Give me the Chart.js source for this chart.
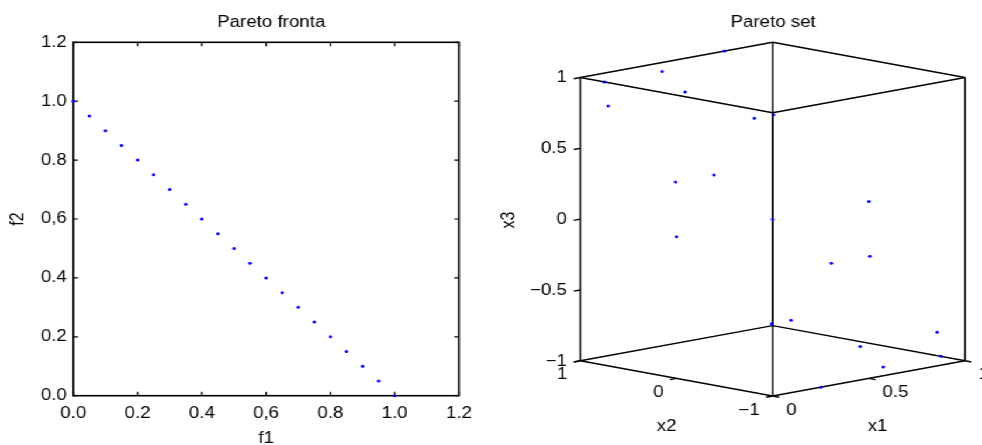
<!DOCTYPE html>
<html>
<head>
<meta charset="utf-8">
<script src="https://cdn.jsdelivr.net/npm/chart.js@4.4.1/dist/chart.umd.min.js"></script>
<style>
  html, body { margin: 0; padding: 0; background: #fff; overflow: hidden; }
  /* figure is laid out at 840px and widened to 982px */
  #figure { position: absolute; left: 0; top: 0; width: 840px; height: 445px; transform: scaleX(1.16905); transform-origin: 0 0; }
  .panel { position: absolute; top: 0; width: 420px; height: 445px; }
  #frontPanel { left: 0; }
  #setPanel { left: 420px; }
</style>
</head>
<body>
<div id="figure">
  <div class="panel" id="frontPanel"><canvas id="frontChart"></canvas></div>
  <div class="panel" id="setPanel"><canvas id="setChart"></canvas></div>
</div>
<script>
const FONT = "'Liberation Sans', Arial, Helvetica, sans-serif";
Chart.defaults.font.family = FONT;
Chart.defaults.font.size = 16;
Chart.defaults.color = "#000";

// Pareto front (objective space)
const f1 = [0, 0.05, 0.1, 0.15, 0.2, 0.25, 0.3, 0.35, 0.4, 0.45, 0.5, 0.55, 0.6, 0.65, 0.7, 0.75, 0.8, 0.85, 0.9, 0.95, 1.0];
const f2 = [1.0, 0.95, 0.9, 0.85, 0.8, 0.75, 0.7, 0.65, 0.6, 0.55, 0.5, 0.45, 0.4, 0.35, 0.3, 0.25, 0.2, 0.15, 0.1, 0.05, 0];
const fTicks = [0, 0.2, 0.4, 0.6, 0.8, 1.0, 1.2];
const fTickLabels = ["0.0", "0.2", "0.4", "0,6", "0.8", "1.0", "1.2"];

// Pareto set (decision space)
const x1 = [0, 0.05, 0.1, 0.15, 0.2, 0.25, 0.3, 0.35, 0.4, 0.45, 0.5, 0.55, 0.6, 0.65, 0.7, 0.75, 0.8, 0.85, 0.9, 0.95, 1.0];
const x2 = [0, 0.81, 0.95, 0.31, -0.59, -1, -0.59, 0.31, 0.95, 0.81, 0, -0.81, -0.95, -0.31, 0.59, 1, 0.59, -0.31, -0.95, -0.81, 0];
const x3 = [0, 0.81, 0.95, 0.31, -0.59, -1, -0.59, 0.31, 0.95, 0.81, 0, -0.81, -0.95, -0.31, 0.59, 1, 0.59, -0.31, -0.95, -0.81, 0];
const x1Lim = [0, 1];
const x2Lim = [-1, 1];
const x3Lim = [-1, 1];
const x1Ticks = [0, 0.5, 1];
const x1TickLabels = ["0", "0.5", "1"];
const x2Ticks = [-1, 0, 1];
const x2TickLabels = ["\u22121", "0", "1"];
const x3Ticks = [-1, -0.5, 0, 0.5, 1];
const x3TickLabels = ["\u22121", "\u22120.5", "0", "0.5", "1"];

// ---------- left panel: f1 vs f2 ----------

// box around the axes with inward ticks on all four sides
const frameTicks = {
  id: "frameTicks",
  beforeDatasetsDraw(chart) {
    const { ctx, chartArea: a, scales } = chart;
    const len = 4;
    ctx.save();
    ctx.strokeStyle = "#000";
    ctx.lineWidth = 1.6;
    ctx.strokeRect(a.left, a.top, a.right - a.left, a.bottom - a.top);
    ctx.lineWidth = 1.2;
    ctx.beginPath();
    for (const v of fTicks) {
      const px = scales.x.getPixelForValue(v);
      ctx.moveTo(px, a.bottom); ctx.lineTo(px, a.bottom - len);
      ctx.moveTo(px, a.top); ctx.lineTo(px, a.top + len);
      const py = scales.y.getPixelForValue(v);
      ctx.moveTo(a.left, py); ctx.lineTo(a.left + len, py);
      ctx.moveTo(a.right, py); ctx.lineTo(a.right - len, py);
    }
    ctx.stroke();
    ctx.restore();
  },
  afterDraw(chart) {
    const { ctx, chartArea: a } = chart;
    ctx.save();
    ctx.font = `16px ${FONT}`;
    ctx.fillStyle = "#000";
    ctx.textAlign = "center";
    ctx.textBaseline = "middle";
    ctx.fillText("Pareto fronta", (a.left + a.right) / 2 + 4.4, 22.3);
    ctx.restore();
  },
};

function fixedTicks(scale) {
  scale.ticks = fTicks.map((v) => ({ value: v }));
}

const frontChart = new Chart(document.getElementById("frontChart"), {
  type: "scatter",
  data: {
    datasets: [
      {
        data: f1.map((v, i) => ({ x: v, y: f2[i] })),
        pointRadius: 1.5,
        pointHoverRadius: 1.5,
        borderWidth: 0,
        backgroundColor: "#0000ff",
        borderColor: "#0000ff",
        clip: false,
      },
    ],
  },
  options: {
    responsive: true,
    maintainAspectRatio: false,
    animation: false,
    devicePixelRatio: 1,
    events: [],
    layout: { padding: { left: 0, right: 27.4, top: 42.3, bottom: 0 } },
    plugins: { legend: { display: false }, tooltip: { enabled: false } },
    scales: {
      x: {
        type: "linear",
        min: 0,
        max: 1.2,
        afterBuildTicks: fixedTicks,
        afterFit(scale) { scale.height = 49.3; },
        grid: { display: false, drawTicks: false },
        border: { display: false },
        ticks: {
          padding: 8.3,
          autoSkip: false,
          maxRotation: 0,
          callback: (value, index) => fTickLabels[index],
        },
        title: { display: true, text: "f1", padding: { top: 0, bottom: -3.1 } },
      },
      y: {
        type: "linear",
        min: 0,
        max: 1.2,
        afterBuildTicks: fixedTicks,
        afterFit(scale) { scale.width = 62.7; },
        grid: { display: false, drawTicks: false },
        border: { display: false },
        ticks: {
          padding: 5.5,
          autoSkip: false,
          callback: (value, index) => fTickLabels[index],
        },
        title: { display: true, text: "f2", padding: { top: 5.8, bottom: 0 } },
      },
    },
  },
  plugins: [frameTicks],
});

// ---------- right panel: 3-D view of x1, x2, x3 ----------

// orthographic view: x1 runs up-right, x2 runs up-left, floor seen slightly from above
const FLOOR_TILT = 0.1243;
const TICK_LEN = 0.034;

function norm(v, lim) {
  return (v - lim[0]) / (lim[1] - lim[0]);
}

function project(a, b, c) {
  const u = norm(a, x1Lim);
  const v = norm(b, x2Lim);
  const w = norm(c, x3Lim);
  return { x: u - v, y: FLOOR_TILT * (u + v) + w };
}

function boxEdges() {
  const lims = [x1Lim, x2Lim, x3Lim];
  const edges = [];
  for (let i = 0; i < 8; i++) {
    const corner = [0, 1, 2].map((d) => lims[d][(i >> d) & 1]);
    for (let d = 0; d < 3; d++) {
      if ((i >> d) & 1) continue;
      const other = corner.slice();
      other[d] = lims[d][1];
      edges.push([project(...corner), project(...other)]);
    }
  }
  return edges;
}

function tickMarks() {
  const r1 = x1Lim[1] - x1Lim[0];
  const r2 = x2Lim[1] - x2Lim[0];
  return [
    ...x1Ticks.map((t) => [project(t, x2Lim[0], x3Lim[0]), project(t, x2Lim[0] - TICK_LEN * r2, x3Lim[0])]),
    ...x2Ticks.map((t) => [project(x1Lim[0], t, x3Lim[0]), project(x1Lim[0] - TICK_LEN * r1, t, x3Lim[0])]),
    ...x3Ticks.map((t) => [project(x1Lim[0], x2Lim[1], t), project(x1Lim[0] - TICK_LEN * r1, x2Lim[1], t)]),
  ];
}

const segment = (pts) => ({
  data: pts,
  showLine: true,
  borderColor: "#000",
  borderWidth: 1.4,
  pointRadius: 0,
  pointHoverRadius: 0,
  fill: false,
  clip: false,
  order: 1,
});

const setLabels = {
  id: "setLabels",
  afterDraw(chart) {
    const { ctx, scales } = chart;
    const toPx = (p) => [scales.x.getPixelForValue(p.x), scales.y.getPixelForValue(p.y)];
    ctx.save();
    ctx.font = `16px ${FONT}`;
    ctx.fillStyle = "#000";
    ctx.textBaseline = "middle";

    ctx.textAlign = "left";
    x1Ticks.forEach((t, i) => {
      const [sx, sy] = toPx(project(t, x2Lim[0], x3Lim[0]));
      ctx.fillText(x1TickLabels[i], sx + 11.6, sy + 14.1);
    });

    ctx.textAlign = "right";
    x2Ticks.forEach((t, i) => {
      const [sx, sy] = toPx(project(x1Lim[0], t, x3Lim[0]));
      ctx.fillText(x2TickLabels[i], sx - 11.1, sy + 14.1);
    });
    x3Ticks.forEach((t, i) => {
      const [sx, sy] = toPx(project(x1Lim[0], x2Lim[1], t));
      ctx.fillText(x3TickLabels[i], sx - 11.5, sy + 0.5);
    });

    ctx.textAlign = "center";
    let [sx, sy] = toPx(project(x1Lim[0], (x2Lim[0] + x2Lim[1]) / 2, x3Lim[0]));
    ctx.fillText("x2", sx - 8.4, sy + 48.2);
    [sx, sy] = toPx(project((x1Lim[0] + x1Lim[1]) / 2, x2Lim[0], x3Lim[0]));
    ctx.fillText("x1", sx + 7.4, sy + 48.2);
    [sx, sy] = toPx(project(x1Lim[0], x2Lim[1], (x3Lim[0] + x3Lim[1]) / 2));
    ctx.save();
    ctx.translate(sx - 60.7, sy + 0.8);
    ctx.rotate(-Math.PI / 2);
    ctx.fillText("x3", 0, 0);
    ctx.restore();

    ctx.fillText("Pareto set", scales.x.getPixelForValue(0) + 0.4, 22.3);
    ctx.restore();
  },
};

const setChart = new Chart(document.getElementById("setChart"), {
  type: "scatter",
  data: {
    datasets: [
      {
        data: x1.map((v, i) => project(v, x2[i], x3[i])),
        pointRadius: 1.5,
        pointHoverRadius: 1.5,
        borderWidth: 0,
        backgroundColor: "#0000ff",
        borderColor: "#0000ff",
        clip: false,
        order: 0,
      },
      ...boxEdges().map(segment),
      ...tickMarks().map(segment),
    ],
  },
  options: {
    responsive: true,
    maintainAspectRatio: false,
    animation: false,
    devicePixelRatio: 1,
    events: [],
    layout: { padding: { left: 76.4, right: 14.5, top: 42.3, bottom: 49 } },
    plugins: { legend: { display: false }, tooltip: { enabled: false } },
    scales: {
      x: { type: "linear", min: -1, max: 1, display: false },
      y: { type: "linear", min: 0, max: 1 + 2 * FLOOR_TILT, display: false },
    },
  },
  plugins: [setLabels],
});
</script>
</body>
</html>
